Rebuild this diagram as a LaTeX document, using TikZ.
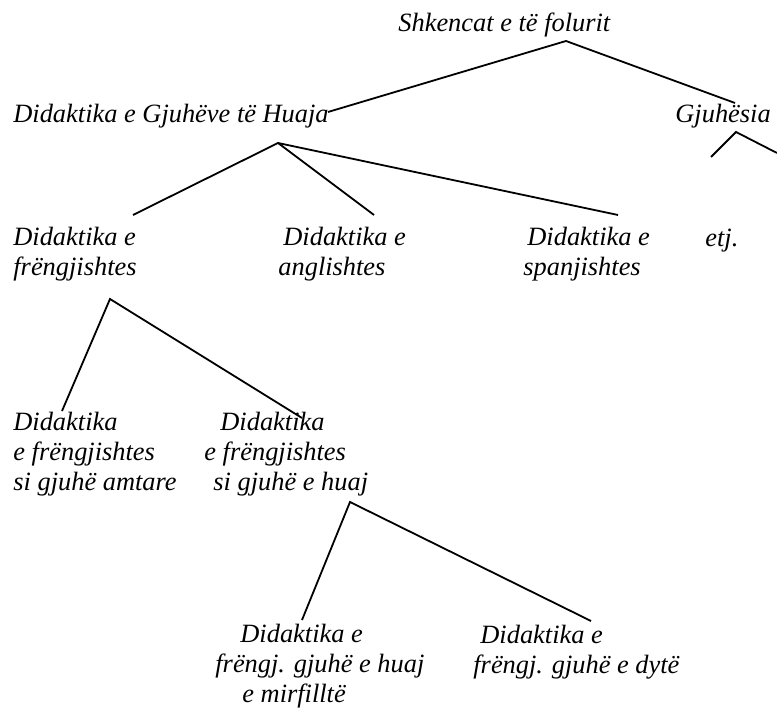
\documentclass[tikz,border=0pt]{standalone}
\usepackage{fontspec}
\setmainfont{Liberation Serif}
\begin{document}
\begin{tikzpicture}[x=0.5pt, y=-0.5pt,
      term/.style={anchor=base west, inner sep=0pt, align=left,
                   font=\fontsize{13.2}{15}\selectfont\itshape},
      branch/.style={line width=0.9pt, line join=miter}]
    \useasboundingbox (0,0) rectangle (777,710);
    % ----- level 0 and 1
    \node[term] (shk) at (398,32) {Shkencat e të folurit};
    \node[term] (dgh) at (13,123) {Didaktika e Gjuhëve të Huaja};
    \node[term] (gjs) at (675,123) {Gjuhësia};
    \coordinate (shk-b) at (566,41);
    \coordinate (dgh-t) at (328,112);
    \coordinate (gjs-t) at (735,103);
    \draw[branch] (dgh-t) -- (shk-b) -- (gjs-t);
    % ----- level 2: the single languages (base = last line)
    \node[term] (dfr) at (13,276) {Didaktika e\\frëngjishtes};
    \node[term] (dan) at (278,276) {\hspace*{2.5pt}Didaktika e\\anglishtes};
    \node[term] (dsp) at (523,276) {\hspace*{2pt}Didaktika e\\spanjishtes};
    \node[term] (etj) at (705,247) {etj.};
    \coordinate (dgh-b) at (278,143);
    \coordinate (dfr-t) at (133,215);
    \coordinate (dan-t) at (374,215);
    \coordinate (dsp-t) at (618,215);
    \draw[branch] (dfr-t) -- (dgh-b) -- (dan-t);
    \draw[branch] (dgh-b) -- (dsp-t);
    \coordinate (gjs-b) at (736,132);
    \coordinate (gjs-l) at (711,157);
    \coordinate (gjs-r) at (777,153);
    \draw[branch] (gjs-l) -- (gjs-b) -- (gjs-r);
    % ----- level 3: French as mother tongue / as foreign language
    \node[term] (dfa) at (13,491) {Didaktika\\e frëngjishtes\\si gjuhë amtare};
    \node[term] (dfh) at (204,491)
      {\hspace*{8pt}Didaktika\\e frëngjishtes\\\hspace*{4.5pt}si gjuhë e huaj};
    \coordinate (dfr-b) at (110,299);
    \coordinate (dfa-t) at (62,411);
    \coordinate (dfh-t) at (302,418);
    \draw[branch] (dfa-t) -- (dfr-b) -- (dfh-t);
    % ----- level 4
    \node[term] (dmf) at (215,703)
      {\hspace*{12.5pt}Didaktika e\\frëngj. gjuhë e huaj\\\hspace*{13.5pt}e mirfilltë};
    \node[term] (ddy) at (473,674)
      {\hspace*{3.5pt}Didaktika e\\frëngj. gjuhë e dytë};
    \coordinate (dfh-b) at (350,502);
    \coordinate (dmf-t) at (302,620);
    \coordinate (ddy-t) at (591,621);
    \draw[branch] (dmf-t) -- (dfh-b) -- (ddy-t);
  \end{tikzpicture}
\end{document}
